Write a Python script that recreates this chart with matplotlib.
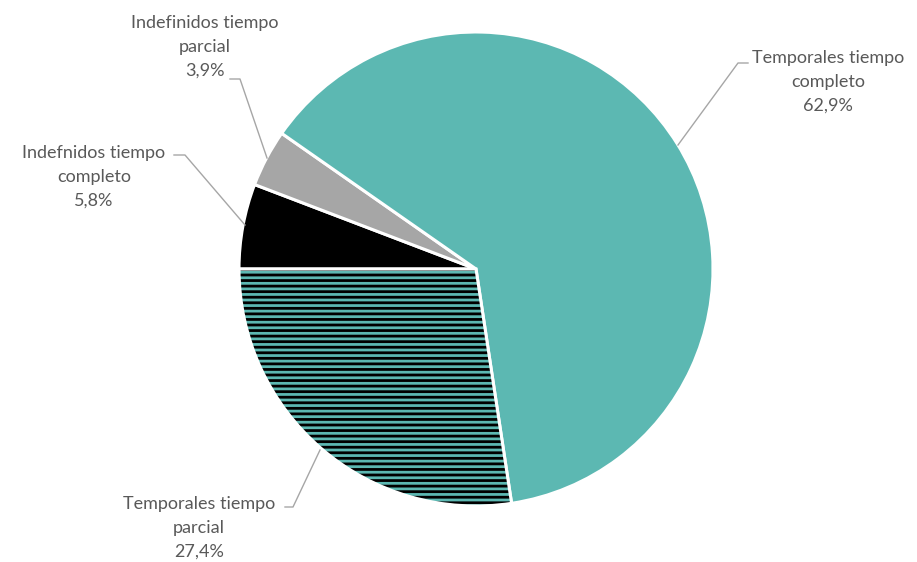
import matplotlib.pyplot as plt
from matplotlib.patches import Wedge

categories = [
    "Indefnidos tiempo\ncompleto",
    "Indefinidos tiempo\nparcial",
    "Temporales tiempo\ncompleto",
    "Temporales tiempo\nparcial",
]
shares = [5.8, 3.9, 62.9, 27.4]
colors = ["#000000", "#a6a6a6", "#5cb8b2", "#5cb8b2"]
hatched = [False, False, False, True]

# label text anchor (center of text block) and leader-line points, in pixels from top-left
label_pos = [(94, 177), (205, 47), (828, 82), (199, 528)]
leaders = [
    [(174, 155), (185, 155), (245, 225)],
    [(230, 79), (240, 79), (267, 158)],
    [(748, 63), (738, 63), (678, 145)],
    [(285, 507), (293, 507), (320, 450)],
]

W, H = 917, 562
CX, CY, R = 476, 269, 237

plt.rcParams["font.family"] = ["Lato", "DejaVu Sans"]
plt.rcParams["hatch.linewidth"] = 2.0

fig = plt.figure(figsize=(W / 100, H / 100), dpi=100)
ax = fig.add_axes([0, 0, 1, 1])

wedges, _ = ax.pie(
    shares,
    colors=colors,
    startangle=180,
    counterclock=False,
    center=(CX, H - CY),
    radius=R,
    wedgeprops=dict(edgecolor="white", linewidth=2.2),
)

for w, h in zip(wedges, hatched):
    if h:
        w.set_edgecolor("black")
        w.set_linewidth(0)
        w.set_hatch("---")
        outline = Wedge(w.center, w.r, w.theta1, w.theta2, fill=False,
                        edgecolor="white", linewidth=2.2, zorder=w.get_zorder() + 1)
        ax.add_patch(outline)

for name, val, (lx, ly), pts in zip(categories, shares, label_pos, leaders):
    txt = f"{name}\n{val:.1f}%".replace(".", ",")
    ax.text(lx, H - ly, txt, ha="center", va="center", fontsize=13,
            color="#595959", linespacing=1.62)
    xs = [p[0] for p in pts]
    ys = [H - p[1] for p in pts]
    ax.plot(xs, ys, color="#a6a6a6", linewidth=1.0)

ax.set_xlim(0, W)
ax.set_ylim(0, H)
ax.set_aspect("auto")
ax.axis("off")

fig.savefig("out.png", dpi=100)
